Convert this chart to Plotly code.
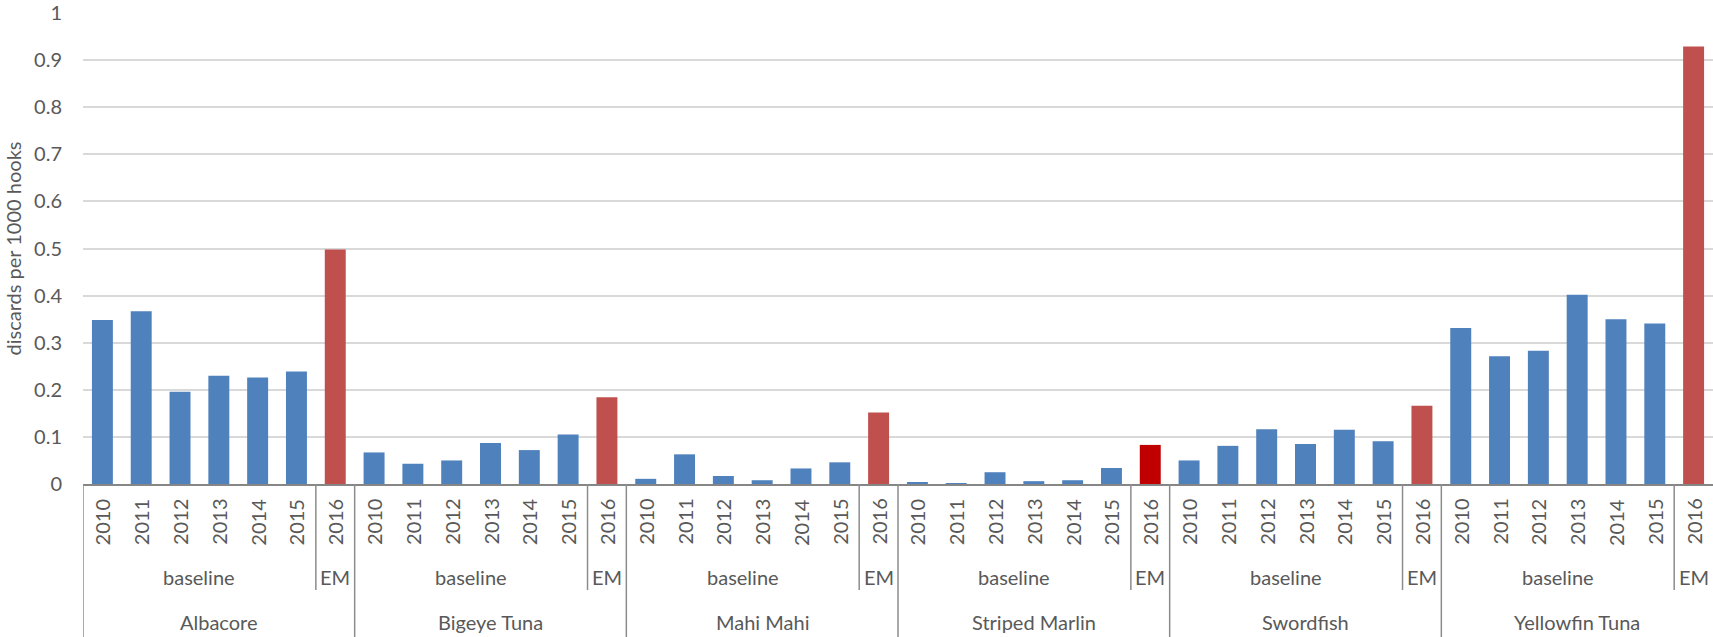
import plotly.graph_objects as go

# ---- data ----
species = ["Albacore", "Bigeye Tuna", "Mahi Mahi", "Striped Marlin", "Swordfish", "Yellowfin Tuna"]
years = ["2010", "2011", "2012", "2013", "2014", "2015", "2016"]
periods = ["baseline"] * 6 + ["EM"]

albacore = [0.348, 0.367, 0.196, 0.230, 0.226, 0.239, 0.498]
bigeye_tuna = [0.067, 0.043, 0.050, 0.087, 0.072, 0.105, 0.184]
mahi_mahi = [0.011, 0.063, 0.017, 0.008, 0.033, 0.046, 0.152]
striped_marlin = [0.004, 0.002, 0.025, 0.006, 0.008, 0.034, 0.083]
swordfish = [0.050, 0.081, 0.116, 0.085, 0.115, 0.091, 0.166]
yellowfin_tuna = [0.331, 0.271, 0.283, 0.402, 0.350, 0.341, 0.929]

series = [albacore, bigeye_tuna, mahi_mahi, striped_marlin, swordfish, yellowfin_tuna]
y_ticks = [0, 0.1, 0.2, 0.3, 0.4, 0.5, 0.6, 0.7, 0.8, 0.9, 1]
y_title = "discards per 1000 hooks"

# ---- styles ----
BLUE = "#4F81BD"
RED = "#C0504D"
DARK_RED = "#C00000"
TXT = "#595959"
FONT = "Lato"
FS = 20

xs, ys, cols = [], [], []
idx = 0
for s_name, vals in zip(species, series):
    for yr, per, v in zip(years, periods, vals):
        xs.append(idx)
        ys.append(v)
        if per == "EM":
            cols.append(DARK_RED if s_name == "Striped Marlin" else RED)
        else:
            cols.append(BLUE)
        idx += 1

n = len(xs)
fig = go.Figure()
fig.add_trace(go.Bar(x=xs, y=ys, marker=dict(color=cols, line=dict(width=0)),
                     hoverinfo="y", showlegend=False))

annotations = []
shapes = []
H_PLOT = 471.0

def pf(px):
    return -px / H_PLOT

# year labels
for i in range(n):
    annotations.append(dict(x=xs[i], y=0, xref="x", yref="paper", yshift=-38,
                            text=years[i % len(years)], textangle=-90, showarrow=False,
                            font=dict(family=FONT, size=FS, color=TXT),
                            xanchor="center", yanchor="middle"))

k = len(years)
for g, s_name in enumerate(species):
    start = g * k
    base_center = start + (len(periods) - 2) / 2.0
    annotations.append(dict(x=base_center, y=0, xref="x", yref="paper", yshift=-93,
                            text="baseline", showarrow=False,
                            font=dict(family=FONT, size=FS, color=TXT),
                            xanchor="center", yanchor="middle"))
    annotations.append(dict(x=start + k - 1, y=0, xref="x", yref="paper", yshift=-93,
                            text="EM", showarrow=False,
                            font=dict(family=FONT, size=FS, color=TXT),
                            xanchor="center", yanchor="middle"))
    annotations.append(dict(x=start + (k - 1) / 2.0, y=0, xref="x", yref="paper", yshift=-138,
                            text=s_name, showarrow=False,
                            font=dict(family=FONT, size=FS, color=TXT),
                            xanchor="center", yanchor="middle"))
    shapes.append(dict(type="line", xref="x", yref="paper", x0=start - 0.5, x1=start - 0.5,
                       y0=0, y1=pf(160), line=dict(color="#8C8C8C", width=1.5)))
    shapes.append(dict(type="line", xref="x", yref="paper", x0=start + k - 1.5, x1=start + k - 1.5,
                       y0=0, y1=pf(106), line=dict(color="#8C8C8C", width=1.5)))

annotations.append(dict(x=0, y=0.5, xref="paper", yref="paper", xshift=-71,
                        text=y_title, textangle=-90, showarrow=False,
                        font=dict(family=FONT, size=FS, color=TXT),
                        xanchor="center", yanchor="middle"))

fig.update_layout(
    width=1713, height=637,
    margin=dict(l=83, r=0, t=13, b=153),
    paper_bgcolor="white", plot_bgcolor="white",
    bargap=0.46,
    annotations=annotations, shapes=shapes,
    xaxis=dict(range=[-0.5, n - 0.5], showticklabels=False, showgrid=False, zeroline=False,
               showline=True, linecolor="#868686", linewidth=2, ticks=""),
    yaxis=dict(range=[0, 1], tickvals=y_ticks, ticktext=[f"{t:g}" for t in y_ticks],
               showgrid=True, gridcolor="#D9D9D9", gridwidth=1.5, zeroline=False,
               showline=False, ticks="", ticklabelstandoff=20,
               tickfont=dict(family=FONT, size=FS, color=TXT)),
)

fig.write_html("out.html", config={"displayModeBar": False},
               post_script="document.body.style.margin='0';document.body.style.overflow='hidden';")
